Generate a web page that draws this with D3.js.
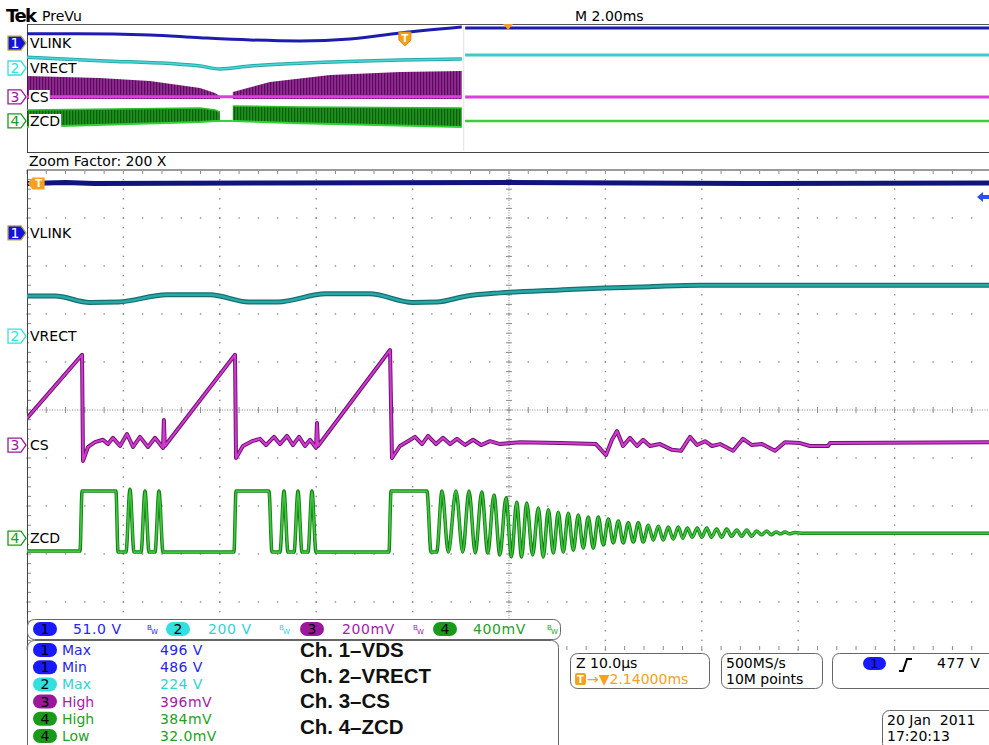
<!DOCTYPE html>
<html>
<head>
<meta charset="utf-8">
<script src="https://cdn.jsdelivr.net/npm/d3@7"></script>
<style>
body { margin: 0; background: #fff; }
svg { display: block; font-family: "DejaVu Sans", sans-serif; }
</style>
</head>
<body>
<svg id="scope" width="989" height="745"></svg>
<script>
"use strict"

// ---- values read off the screen shot ----
// zoom window: time in us (10 us/div), level in divisions from centre
// preview: time in ms (2 ms/div), level in preview units (0..8)

const chNames = ["VLINK", "VRECT", "CS", "ZCD"];
const chNums = ["1", "2", "3", "4"];
const chScales = ["51.0 V", "200 V", "200mV", "400mV"];
const chZoomLevels = [3.69, 1.54, -0.73, -2.67];
const chPreLevels = [6.81, 5.25, 3.44, 1.94];

const measCh = [0, 0, 1, 2, 3, 3];
const measNames = ["Max", "Min", "Max", "High", "High", "Low"];
const measValues = ["496 V", "486 V", "224 V", "396mV", "384mV", "32.0mV"];
const noteLines = ["Ch. 1\u2013VDS", "Ch. 2\u2013VRECT", "Ch. 3\u2013CS", "Ch. 4\u2013ZCD"];

const zoomInfo = ["Z 10.0\u00b5s", "\u2192\u25bc2.14000ms"];
const rateInfo = ["500MS/s", "10M points"];
const trigInfo = "477 V";
const dateInfo = ["20 Jan  2011", "17:20:13"];

const zoomTrigUs = 1.0;
const trigLevelDiv = 4.44;
const preTrigMs = 7.84;
const preZoomMs = 9.98;
const preEndMs = 9.05;

const vlinkZoom = [[0, 4.72], [4, 4.74], [7, 4.72], [25, 4.73], [50, 4.74], [75, 4.72], [100, 4.73]];

const vrectZoom = [[0, 2.375], [2.9, 2.375], [6.5, 2.24], [9.5, 2.25], [14.5, 2.4], [19.0, 2.4],
  [23.0, 2.25], [26.0, 2.25], [31.0, 2.42], [35.5, 2.42], [40.0, 2.24], [42.5, 2.25],
  [45.64, 2.375], [49.07, 2.44], [55.29, 2.5], [59.96, 2.54], [64.63, 2.57], [69.81, 2.6], [100, 2.6]];

const csZoom = [[0, -0.17], [5.71, 1.15], [5.81, -1.06], [6.33, -0.77], [7.05, -0.67], [7.88, -0.62],
  [8.4, -0.71], [8.92, -0.58], [9.65, -0.75], [10.37, -0.5], [11.0, -0.77], [11.72, -0.56],
  [12.55, -0.77], [13.28, -0.58], [14.11, -0.79], [14.2, -0.21], [14.3, -0.75],
  [21.58, 1.15], [21.68, -1.0], [22.4, -0.75], [23.34, -0.65], [24.17, -0.6], [24.79, -0.73],
  [25.62, -0.56], [26.24, -0.71], [26.97, -0.54], [27.59, -0.73], [28.22, -0.56], [28.84, -0.75],
  [29.36, -0.62], [29.98, -0.79], [30.08, -0.27], [30.19, -0.75],
  [37.66, 1.25], [37.86, -1.0], [38.69, -0.75], [39.52, -0.65], [40.25, -0.56], [40.98, -0.71],
  [41.6, -0.54], [42.43, -0.71], [43.15, -0.58], [43.88, -0.71], [44.6, -0.6], [45.44, -0.73],
  [46.27, -0.62], [47.1, -0.73], [48.03, -0.65], [49.07, -0.71], [51.14, -0.67], [55.29, -0.69],
  [59.02, -0.71], [60.06, -0.94], [60.68, -0.62], [61.2, -0.44], [61.83, -0.75], [62.55, -0.58],
  [63.28, -0.75], [63.9, -0.62], [64.63, -0.75], [65.66, -0.71], [66.91, -0.83], [67.84, -0.85],
  [68.78, -0.56], [69.5, -0.73], [70.33, -0.65], [71.06, -0.75], [71.89, -0.71], [73.24, -0.85],
  [74.27, -0.6], [75.2, -0.73], [76.24, -0.71], [77.59, -0.85], [78.63, -0.67], [80.19, -0.69],
  [81.22, -0.75], [83.09, -0.75], [83.3, -0.69], [100, -0.67]];

const zcdZoom = [[0, -2.94], [5.5, -2.94], [5.71, -1.69], [9.23, -1.69], [9.44, -2.96], [10.27, -2.96],
  [10.68, -1.65], [11.1, -2.96], [11.83, -2.96], [12.24, -1.69], [12.66, -2.96], [13.28, -2.96],
  [13.69, -1.69], [14.11, -2.96], [21.47, -2.96], [21.68, -1.69], [25.1, -1.69], [25.41, -2.96],
  [26.24, -2.96], [26.66, -1.69], [27.07, -2.96], [27.7, -2.96], [28.11, -1.69], [28.53, -2.96],
  [29.15, -2.96], [29.56, -1.69], [29.98, -2.96], [37.55, -2.96], [37.76, -1.69], [41.49, -1.69],
  [41.91, -2.96], [42.5, -2.96],
  // ringing after the last switching cycle
  [43.05, -1.69], [43.7, -2.96], [44.5, -1.69], [45.2, -2.96], [45.85, -1.69], [46.5, -2.98],
  [47.17, -1.71], [47.8, -2.98], [48.44, -1.77], [49.05, -3.02], [49.69, -1.83], [50.25, -3.06],
  [50.8, -1.92], [51.3, -3.06], [51.84, -1.94], [52.45, -3.02], [53.04, -2.04], [53.55, -3.06],
  [54.08, -2.08], [54.6, -2.98], [55.11, -2.13], [55.63, -2.96], [56.15, -2.15], [56.67, -2.92],
  [57.19, -2.19], [57.7, -2.875], [58.22, -2.23], [58.74, -2.875], [59.26, -2.23], [59.78, -2.81],
  [60.3, -2.27], [60.82, -2.77], [61.34, -2.31], [61.85, -2.77], [62.37, -2.35], [62.9, -2.75],
  [63.41, -2.35], [63.93, -2.75], [64.45, -2.4], [64.97, -2.71], [65.49, -2.42], [66.0, -2.71],
  [66.52, -2.44], [67.04, -2.69], [67.56, -2.44], [68.03, -2.67], [68.5, -2.46], [69.0, -2.65],
  [69.53, -2.46], [70.0, -2.65], [70.51, -2.46], [71.0, -2.65], [71.54, -2.48], [72.06, -2.65],
  [72.58, -2.48], [73.1, -2.63], [73.62, -2.5], [74.14, -2.63], [74.66, -2.5], [75.17, -2.63],
  [75.69, -2.52], [76.2, -2.6], [76.73, -2.52], [77.2, -2.6], [77.7, -2.54], [78.2, -2.58],
  [78.63, -2.54], [79.1, -2.58], [79.67, -2.55], [80.5, -2.57], [100, -2.57]];

const vlinkPre = [[0, 7.39], [1.04, 7.39], [2.55, 7.31], [3.59, 7.14], [4.63, 7.0], [5.66, 6.94],
  [6.7, 7.06], [7.74, 7.44], [9.02, 7.81]];
const vlinkPreRight = [[9.09, 7.75], [20, 7.75]];
const vrectPre = [[0, 5.92], [1.51, 5.71], [3.59, 5.375], [4.0, 5.19], [4.63, 5.375], [5.66, 5.54],
  [7.74, 5.75], [9.02, 5.81]];
const vrectPreRight = [[9.09, 6.06], [20, 6.06]];
// CS burst: top envelope, null = gap where switching stopped
const csPreTop = [[0, 4.75], [1.51, 4.625], [2.55, 4.44], [3.59, 4.0], [3.9, 3.69], [4.0, 3.5],
  [4.1, null], [4.27, 3.75], [5.04, 4.375], [6.29, 4.81], [7.74, 5.0], [9.02, 5.06]];
const csPreBottom = 3.31;
const csPreBase = [[0, 3.46], [9.02, 3.46]];
const csPreRight = [[9.09, 3.44], [20, 3.44]];
// ZCD burst: [ms, top, bottom]
const zcdPreBand = [[0, 2.63, 1.56], [3.59, 2.75, 1.875], [3.9, 2.63, 1.94], [4.0, 2.5, 1.94],
  [4.1, null, null], [4.27, 2.875, 1.94], [5.66, 2.81, 1.8], [9.02, 2.75, 1.56]];
const zcdPreBase = [[3.9, 1.94], [4.27, 1.94]];
const zcdPreRight = [[9.09, 1.94], [20, 1.94]];

// ---- colours ----
const pillCol = ["#1a1aff", "#33e0e0", "#9a189a", "#1a9a1a"];
const textCol = ["#2626e8", "#2fd3d3", "#a81aa8", "#1fa01f"];
const orange = "#f5a01e";

const svg = d3.select("#scope");

const xZ = d3.scaleLinear().domain([0, 100]).range([27, 991]);
const yZ = d3.scaleLinear().domain([-5, 5]).range([650, 170]);
const xP = d3.scaleLinear().domain([0, 20]).range([27, 991]);
const yP = d3.scaleLinear().domain([0, 8]).range([152, 24]);

const defs = svg.append("defs");
defs.append("clipPath").attr("id", "clipZ").append("rect")
  .attr("x", 27).attr("y", 170).attr("width", 964).attr("height", 480);
defs.append("clipPath").attr("id", "clipP").append("rect")
  .attr("x", 27).attr("y", 24).attr("width", 964).attr("height", 128);

function stripes(id, bg, fg) {
  const p = defs.append("pattern").attr("id", id).attr("patternUnits", "userSpaceOnUse")
    .attr("width", 3).attr("height", 10);
  p.append("rect").attr("width", 3).attr("height", 10).attr("fill", bg);
  p.append("rect").attr("width", 1.2).attr("height", 10).attr("fill", fg);
}
stripes("csBand", "#8e2a90", "#5c0a5e");
stripes("zcdBand", "#1f8f1f", "#0a5e0a");

// ---- header ----
svg.append("text").attr("x", 6).attr("y", 22).attr("font-size", 18).attr("font-weight", "bold")
  .attr("letter-spacing", -1.5).text("Tek");
svg.append("text").attr("x", 42).attr("y", 21).attr("font-size", 14).text("PreVu");
svg.append("text").attr("x", 575).attr("y", 21).attr("font-size", 14).text("M 2.00ms");

// ---- graticule of the zoom window ----
const grat = svg.append("g").attr("fill", "#8a8a8a").attr("stroke", "#8a8a8a");
const minorY = d3.range(0, 51).map(i => -5 + i * 0.2);
const minorX = d3.range(0, 51).map(i => i * 2);

d3.range(1, 10).filter(i => i != 5).forEach(i => {
  grat.selectAll(null).data(minorY).enter().append("rect")
    .attr("x", xZ(i * 10) - 0.7).attr("y", d => yZ(d) - 0.7)
    .attr("width", 1.4).attr("height", 1.4).attr("stroke", "none");
});
d3.range(-4, 5).filter(j => j != 0).forEach(j => {
  grat.selectAll(null).data(minorX).enter().append("rect")
    .attr("x", d => xZ(d) - 0.7).attr("y", yZ(j) - 0.7)
    .attr("width", 1.4).attr("height", 1.4).attr("stroke", "none");
});
// centre cross
grat.append("line").attr("x1", xZ(50)).attr("x2", xZ(50)).attr("y1", yZ(5)).attr("y2", yZ(-5))
  .attr("stroke-dasharray", "1,1.5");
grat.append("line").attr("x1", xZ(0)).attr("x2", xZ(100)).attr("y1", yZ(0)).attr("y2", yZ(0))
  .attr("stroke-dasharray", "1,1.5");
grat.selectAll(null).data(minorY).enter().append("line")
  .attr("x1", xZ(50) - 3).attr("x2", xZ(50) + 3).attr("y1", d => yZ(d)).attr("y2", d => yZ(d));
grat.selectAll(null).data(minorX).enter().append("line")
  .attr("y1", yZ(0) - 3).attr("y2", yZ(0) + 3).attr("x1", d => xZ(d)).attr("x2", d => xZ(d));
// edges
grat.selectAll(null).data(minorX).enter().append("line")
  .attr("y1", yZ(5)).attr("y2", yZ(5) + 4).attr("x1", d => xZ(d)).attr("x2", d => xZ(d));
grat.selectAll(null).data(minorX).enter().append("line")
  .attr("y1", yZ(-5) - 4).attr("y2", yZ(-5)).attr("x1", d => xZ(d)).attr("x2", d => xZ(d));
grat.selectAll(null).data(minorY).enter().append("line")
  .attr("x1", xZ(0)).attr("x2", xZ(0) + 4).attr("y1", d => yZ(d)).attr("y2", d => yZ(d));
svg.append("line").attr("x1", xZ(0)).attr("x2", 989).attr("y1", yZ(5)).attr("y2", yZ(5))
  .attr("stroke", "#9a9a9a").attr("stroke-width", 2);
svg.append("line").attr("x1", xZ(0) + 0.5).attr("x2", xZ(0) + 0.5).attr("y1", yZ(5)).attr("y2", 745)
  .attr("stroke", "#444");

// ---- preview box ----
svg.append("line").attr("x1", 27).attr("x2", 989).attr("y1", 24.5).attr("y2", 24.5).attr("stroke", "#555");
svg.append("line").attr("x1", 27).attr("x2", 989).attr("y1", 152.5).attr("y2", 152.5).attr("stroke", "#444");
svg.append("line").attr("x1", 27.5).attr("x2", 27.5).attr("y1", 24).attr("y2", 153).attr("stroke", "#444");
svg.append("line").attr("x1", xP(preEndMs) + 0.5).attr("x2", xP(preEndMs) + 0.5).attr("y1", 26).attr("y2", 151)
  .attr("stroke", "#e2e2e2");

const pre = svg.append("g").attr("clip-path", "url(#clipP)");
const lineP = d3.line().x(d => xP(d[0])).y(d => yP(d[1])).curve(d3.curveMonotoneX);

pre.append("path").datum(csPreTop)
  .attr("d", d3.area().defined(d => d[1] != null).x(d => xP(d[0])).y0(yP(csPreBottom)).y1(d => yP(d[1])))
  .attr("fill", "url(#csBand)");
pre.append("path").datum(zcdPreBand)
  .attr("d", d3.area().defined(d => d[1] != null).x(d => xP(d[0])).y0(d => yP(d[2])).y1(d => yP(d[1])))
  .attr("fill", "url(#zcdBand)");
pre.append("path").datum(zcdPreBand)
  .attr("d", d3.line().defined(d => d[1] != null).x(d => xP(d[0])).y(d => yP(d[1])))
  .attr("fill", "none").attr("stroke", "#2fbf2f").attr("stroke-width", 1.5);
pre.append("path").datum(zcdPreBand)
  .attr("d", d3.line().defined(d => d[2] != null).x(d => xP(d[0])).y(d => yP(d[2])))
  .attr("fill", "none").attr("stroke", "#35d035").attr("stroke-width", 2);

const preLines = [
  [vlinkPre, "#1c1cb0", 3], [vlinkPreRight, "#1c1cb0", 3],
  [vrectPre, "#2aa8a8", 3.5], [vrectPre, "#48d8d8", 1.5], [vrectPreRight, "#3ccaca", 3],
  [csPreBase, "#dc40dc", 3], [csPreRight, "#dc40dc", 3],
  [zcdPreBase, "#35d035", 2], [zcdPreRight, "#35d035", 2.5]
];
preLines.forEach(l => {
  pre.append("path").datum(l[0]).attr("d", lineP).attr("fill", "none")
    .attr("stroke", l[1]).attr("stroke-width", l[2]);
});

// trigger shield and zoom position marker
const tx = xP(preTrigMs);
svg.append("path").attr("d", `M${tx - 6},32 H${tx + 6} V40 L${tx},46 L${tx - 6},40 Z`)
  .attr("fill", orange).attr("stroke", "#d88a10").attr("stroke-linejoin", "round");
svg.append("text").attr("x", tx).attr("y", 42).attr("text-anchor", "middle").attr("fill", "#fff")
  .attr("font-size", 10).attr("font-weight", "bold").text("T");
const zx = xP(preZoomMs);
svg.append("path").attr("d", `M${zx - 5},24 H${zx + 5} L${zx},30 Z`).attr("fill", orange);

// ---- zoom window traces ----
const main = svg.append("g").attr("clip-path", "url(#clipZ)");
const lineZ = d3.line().x(d => xZ(d[0])).y(d => yZ(d[1]));
const smoothZ = d3.line().x(d => xZ(d[0])).y(d => yZ(d[1])).curve(d3.curveMonotoneX);

function trace(data, gen, edge, core, wEdge, wCore) {
  main.append("path").datum(data).attr("d", gen).attr("fill", "none")
    .attr("stroke", edge).attr("stroke-width", wEdge).attr("stroke-linejoin", "round");
  if (core) {
    main.append("path").datum(data).attr("d", gen).attr("fill", "none")
      .attr("stroke", core).attr("stroke-width", wCore).attr("stroke-linejoin", "round");
  }
}
trace(vlinkZoom, lineZ, "#13137e", null, 5, 0);
trace(vrectZoom, smoothZ, "#166f6f", "#28a8a8", 5, 2.5);
trace(csZoom, lineZ, "#6d146f", "#d23ad2", 4, 2);
trace(zcdZoom, smoothZ, "#157d15", "#3cc83c", 3.5, 1.8);

// trigger marker at the left, trigger level arrow at the right
const ty = yZ(vlinkZoom[0][1]);
const tmx = xZ(zoomTrigUs);
svg.append("path").attr("d", `M${tmx - 9},${ty} L${tmx - 4},${ty - 6} H${tmx + 8} V${ty + 6} H${tmx - 4} Z`)
  .attr("fill", orange);
svg.append("text").attr("x", tmx + 2).attr("y", ty + 4).attr("text-anchor", "middle").attr("fill", "#fff")
  .attr("font-size", 10).attr("font-weight", "bold").text("T");
const ly = yZ(trigLevelDiv);
svg.append("path").attr("d", `M977,${ly} L983,${ly - 5} V${ly - 2} H989 V${ly + 2} H983 V${ly + 5} Z`)
  .attr("fill", "#2b4cff");

// ---- channel markers and names ----
function chMarker(yc, i) {
  const filled = i == 0;
  svg.append("path").attr("d", `M8,${yc - 7} H21 L26,${yc} L21,${yc + 7} H8 Z`)
    .attr("fill", filled ? "#1414d8" : "#fff")
    .attr("stroke", filled ? "#b9a840" : pillCol[i]).attr("stroke-width", 1.3);
  svg.append("text").attr("x", 15).attr("y", yc + 5).attr("text-anchor", "middle")
    .attr("font-size", 14).attr("fill", filled ? "#fff" : pillCol[i]).text(chNums[i]);
}
function chLabel(yc, i) {
  const t = svg.append("text").attr("x", 30).attr("y", yc + 5).attr("font-size", 14)
    .attr("fill", "#000").text(chNames[i]);
  const b = t.node().getBBox();
  svg.insert("rect", () => t.node()).attr("x", b.x - 1).attr("y", b.y + 1)
    .attr("width", b.width + 2).attr("height", b.height - 1).attr("fill", "#fff");
}
chNames.forEach((n, i) => {
  chLabel(yP(chPreLevels[i]), i);
  chMarker(yP(chPreLevels[i]), i);
  chLabel(yZ(chZoomLevels[i]), i);
  chMarker(yZ(chZoomLevels[i]), i);
});

svg.append("text").attr("x", 29).attr("y", 166).attr("font-size", 14).text("Zoom Factor: 200 X");

// ---- readouts ----
function box(x, y, w, h) {
  svg.append("rect").attr("x", x + 0.5).attr("y", y + 0.5).attr("width", w).attr("height", h)
    .attr("rx", 7).attr("fill", "#fff").attr("stroke", "#666");
}
function pill(cx, cy, i) {
  svg.append("rect").attr("x", cx - 12).attr("y", cy - 7).attr("width", 24).attr("height", 14)
    .attr("rx", 7).attr("fill", pillCol[i]);
  svg.append("text").attr("x", cx).attr("y", cy + 5).attr("text-anchor", "middle")
    .attr("font-size", 14).attr("fill", "#000").text(chNums[i]);
}

box(27, 619, 533, 20);
const barPill = [45, 178, 312, 445];
const barText = [73, 208, 342, 473];
const barBw = [147, 279, 413, 547];
chScales.forEach((s, i) => {
  pill(barPill[i], 629, i);
  svg.append("text").attr("x", barText[i]).attr("y", 634).attr("font-size", 14)
    .attr("letter-spacing", 0.6).attr("fill", textCol[i]).text(s);
  svg.append("text").attr("x", barBw[i]).attr("y", 630).attr("font-size", 7).attr("fill", textCol[i]).text("B");
  svg.append("text").attr("x", barBw[i] + 4).attr("y", 634).attr("font-size", 7).attr("fill", textCol[i]).text("W");
});

box(27, 640, 531, 112);
measNames.forEach((m, k) => {
  const cy = 650 + k * 17.2;
  const i = measCh[k];
  pill(45, cy, i);
  svg.append("text").attr("x", 62).attr("y", cy + 5).attr("font-size", 14).attr("fill", textCol[i]).text(m);
  svg.append("text").attr("x", 160).attr("y", cy + 5).attr("font-size", 14)
    .attr("letter-spacing", 0.4).attr("fill", textCol[i]).text(measValues[k]);
});
noteLines.forEach((n, k) => {
  svg.append("text").attr("x", 300).attr("y", 657 + k * 25.7)
    .attr("font-family", "'Liberation Sans', Arial, sans-serif").attr("font-weight", "bold")
    .attr("font-size", 20.5).attr("fill", "#111").text(n);
});

// zoom scale / position
box(570, 653, 139, 35);
svg.append("text").attr("x", 576).attr("y", 668).attr("font-size", 14).text(zoomInfo[0]);
svg.append("rect").attr("x", 575).attr("y", 673).attr("width", 11).attr("height", 12).attr("rx", 2).attr("fill", orange);
svg.append("text").attr("x", 580.5).attr("y", 683).attr("text-anchor", "middle").attr("font-size", 10)
  .attr("font-weight", "bold").attr("fill", "#fff").text("T");
svg.append("text").attr("x", 587).attr("y", 684).attr("font-size", 14).attr("fill", orange).text(zoomInfo[1]);

// sample rate
box(721, 653, 101, 35);
svg.append("text").attr("x", 726).attr("y", 668).attr("font-size", 14).text(rateInfo[0]);
svg.append("text").attr("x", 726).attr("y", 684).attr("font-size", 14).text(rateInfo[1]);

// trigger
box(832, 653, 170, 35);
svg.append("rect").attr("x", 863).attr("y", 657).attr("width", 23).attr("height", 13).attr("rx", 6.5).attr("fill", "#1a1aff");
svg.append("text").attr("x", 874.5).attr("y", 668).attr("text-anchor", "middle").attr("font-size", 13).text("1");
svg.append("path").attr("d", "M899,671 H903 L907,659 H912").attr("fill", "none")
  .attr("stroke", "#000").attr("stroke-width", 2);
svg.append("text").attr("x", 937).attr("y", 668).attr("font-size", 14).attr("letter-spacing", 0.5).text(trigInfo);

// date
box(882, 710, 120, 40);
svg.append("text").attr("x", 887).attr("y", 725).attr("font-size", 14)
  .style("white-space", "pre").text(dateInfo[0]);
svg.append("text").attr("x", 887).attr("y", 741).attr("font-size", 14).text(dateInfo[1]);
</script>
</body>
</html>
